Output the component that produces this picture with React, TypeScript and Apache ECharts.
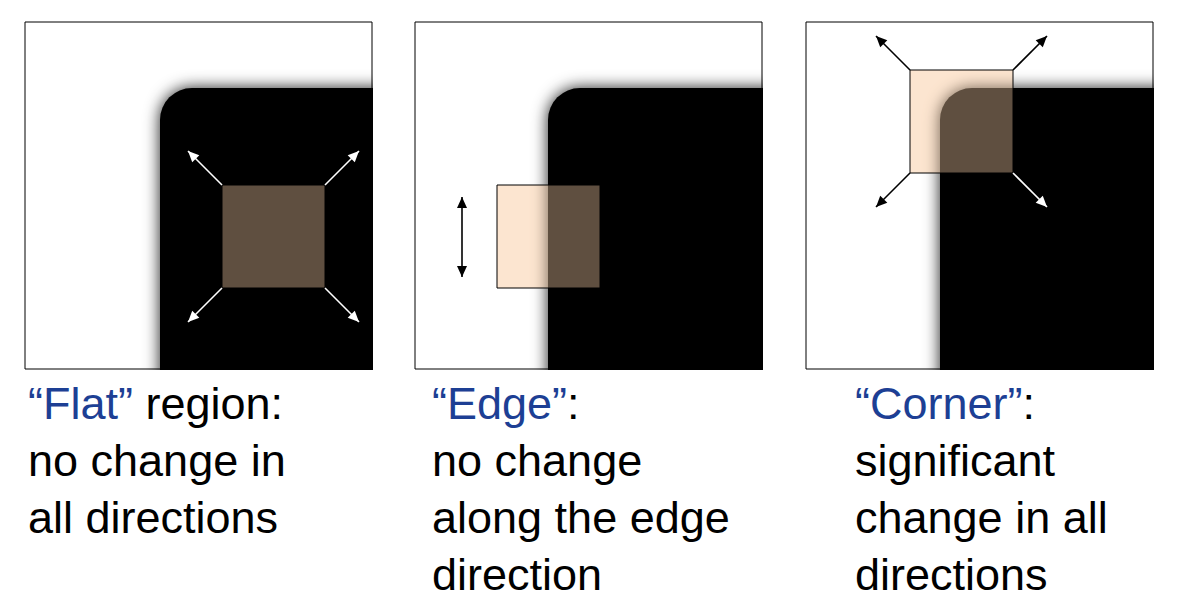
import { useEffect, useRef } from 'react';
import * as echarts from 'echarts';

// panel frames: [left, top, size]
const panelX = [25, 415, 806];
const panelY = 22;
const panelSize = 347;
// black blob top-left corner per panel
const blobX = [160, 548, 940];
const blobY = [88, 88, 88];
// window squares: [x, y]
const squareX = [222, 497, 910];
const squareY = [185, 185, 70];
const squareSize = 103;
// caption lines
const captionX = [28, 432, 855];
const captionHead = ['“Flat”', '“Edge”', '“Corner”'];
const captionLine1 = [' region:', ':', ':'];
const captionRest = [
  ['no change in', 'all directions'],
  ['no change', 'along the edge', 'direction'],
  ['significant', 'change in all', 'directions'],
];

const PEACH_UNDER = '#fef2e8';
const PEACH_OVER = '#fbcfa8';
const BLUE = '#1d3f94';

function arrow(x1: number, y1: number, x2: number, y2: number, color: string, both = false) {
  const head = (ax: number, ay: number, bx: number, by: number) => {
    const ang = Math.atan2(by - ay, bx - ax);
    const L = 11, W = 5;
    const px = bx - L * Math.cos(ang), py = by - L * Math.sin(ang);
    return {
      type: 'polygon',
      shape: {
        points: [
          [bx, by],
          [px + W * Math.sin(ang), py - W * Math.cos(ang)],
          [px - W * Math.sin(ang), py + W * Math.cos(ang)],
        ],
      },
      style: { fill: color },
    };
  };
  const items: any[] = [
    { type: 'line', shape: { x1, y1, x2, y2 }, style: { stroke: color, lineWidth: 1.6 } },
    head(x1, y1, x2, y2),
  ];
  if (both) items.push(head(x2, y2, x1, y1));
  return { type: 'group', children: items };
}

export default function App() {
  const ref = useRef<HTMLDivElement>(null);

  useEffect(() => {
    if (!ref.current) return;
    document.body.style.margin = '0';
    const chart = echarts.init(ref.current, null, { renderer: 'svg' });
    const els: any[] = [];

    panelX.forEach((px, i) => {
      const sx = squareX[i], sy = squareY[i];
      // peach square under the blob
      els.push({ type: 'rect', shape: { x: sx, y: sy, width: squareSize, height: squareSize }, style: { fill: PEACH_UNDER } });
      // black blob
      els.push({
        type: 'rect',
        shape: { x: blobX[i], y: blobY[i], width: px + panelSize - blobX[i] + 20, height: panelY + panelSize - blobY[i] + 20, r: [32, 0, 0, 0] },
        style: { fill: '#000', shadowBlur: 16, shadowColor: 'rgba(0,0,0,0.9)' },
      });
    });
    // white covers outside panels to hide blob overflow
    els.push({ type: 'rect', shape: { x: 0, y: panelY + panelSize + 1, width: 1202, height: 300 }, style: { fill: '#fff' } });
    panelX.forEach((px, i) => {
      const right = px + panelSize + 1;
      const next = i < 2 ? panelX[i + 1] : 1202;
      els.push({ type: 'rect', shape: { x: right, y: 0, width: next - right, height: panelY + panelSize + 2 }, style: { fill: '#fff' } });
    });
    panelX.forEach((px, i) => {
      const sx = squareX[i], sy = squareY[i];
      els.push({
        type: 'rect',
        shape: { x: sx, y: sy, width: squareSize, height: squareSize },
        style: { fill: PEACH_OVER, opacity: 0.38 },
      });
      els.push({ type: 'rect', shape: { x: sx, y: sy, width: squareSize, height: squareSize }, style: { fill: 'none', stroke: '#000', lineWidth: 1 } });
      els.push({ type: 'rect', shape: { x: px, y: panelY, width: panelSize, height: panelSize }, style: { fill: 'none', stroke: '#000', lineWidth: 1 } });
    });

    // arrows panel 1 (white)
    const s1x = squareX[0], s1y = squareY[0], d = 34;
    els.push(arrow(s1x, s1y, s1x - d, s1y - d, '#fff'));
    els.push(arrow(s1x + squareSize, s1y, s1x + squareSize + d, s1y - d, '#fff'));
    els.push(arrow(s1x, s1y + squareSize, s1x - d, s1y + squareSize + d, '#fff'));
    els.push(arrow(s1x + squareSize, s1y + squareSize, s1x + squareSize + d, s1y + squareSize + d, '#fff'));
    // panel 2 vertical double arrow
    els.push(arrow(462, 197, 462, 277, '#000', true));
    // panel 3
    const s3x = squareX[2], s3y = squareY[2];
    els.push(arrow(s3x, s3y, s3x - d, s3y - d, '#000'));
    els.push(arrow(s3x + squareSize, s3y, s3x + squareSize + d, s3y - d, '#000'));
    els.push(arrow(s3x, s3y + squareSize, s3x - d, s3y + squareSize + d, '#000'));
    els.push(arrow(s3x + squareSize, s3y + squareSize, s3x + squareSize + d, s3y + squareSize + d, '#fff'));

    // captions
    const font = { fontFamily: 'Liberation Sans, Arial, sans-serif', fontSize: 45 };
    captionX.forEach((cx, i) => {
      els.push({
        type: 'text',
        x: cx,
        y: 381,
        style: {
          text: `{h|${captionHead[i]}}{n|${captionLine1[i]}}`,
          rich: { h: { ...font, fill: BLUE }, n: { ...font, fill: '#000' } },
          ...font,
        },
      });
      captionRest[i].forEach((line, j) => {
        els.push({ type: 'text', x: cx, y: 381 + 57 * (j + 1), style: { text: line, fill: '#000', ...font } });
      });
    });

    chart.setOption({ animation: false, backgroundColor: '#fff', graphic: { elements: els } });
    return () => chart.dispose();
  }, []);

  return <div ref={ref} style={{ width: 1202, height: 612 }} />;
}
